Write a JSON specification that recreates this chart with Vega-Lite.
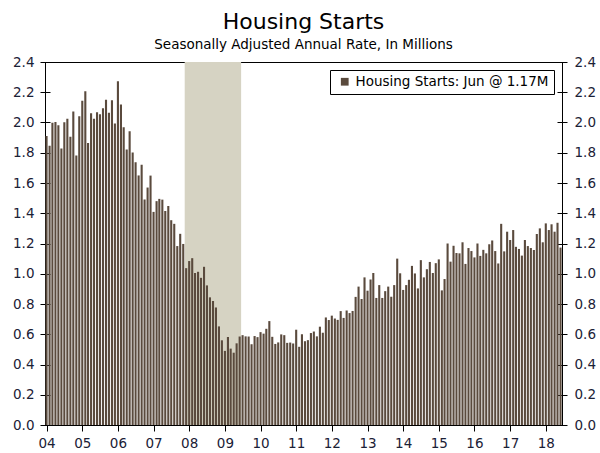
{
  "$schema": "https://vega.github.io/schema/vega-lite/v6.json",
  "width": 517,
  "height": 363,
  "autosize": {"type": "none"},
  "padding": {"left": 45, "top": 62, "right": 38, "bottom": 28},
  "background": "white",
  "title": {
    "text": "Housing Starts",
    "subtitle": "Seasonally Adjusted Annual Rate, In Millions",
    "anchor": "middle",
    "font": "DejaVu Sans",
    "fontSize": 22,
    "fontWeight": "normal",
    "color": "black",
    "subtitleFont": "DejaVu Sans",
    "subtitleFontSize": 13.5,
    "subtitleColor": "black",
    "subtitlePadding": 4,
    "offset": 3
  },
  "config": {
    "view": {"stroke": "black", "strokeWidth": 1},
    "axis": {
      "labelFont": "DejaVu Sans",
      "labelFontSize": 13.5,
      "labelColor": "#1b2136",
      "tickColor": "black",
      "grid": false,
      "domain": false
    },
    "legend": {
      "labelFont": "DejaVu Sans",
      "labelFontSize": 13.5,
      "labelColor": "black",
      "labelLimit": 400
    }
  },
  "datasets": {
    "hs": [
      {"d": "2004-01-01", "v": 1.911}, {"d": "2004-02-01", "v": 1.846}, {"d": "2004-03-01", "v": 1.998}, {"d": "2004-04-01", "v": 2.003}, {"d": "2004-05-01", "v": 1.981}, {"d": "2004-06-01", "v": 1.828}, {"d": "2004-07-01", "v": 2.002}, {"d": "2004-08-01", "v": 2.024}, {"d": "2004-09-01", "v": 1.905}, {"d": "2004-10-01", "v": 2.072}, {"d": "2004-11-01", "v": 1.782}, {"d": "2004-12-01", "v": 2.042},
      {"d": "2005-01-01", "v": 2.144}, {"d": "2005-02-01", "v": 2.207}, {"d": "2005-03-01", "v": 1.864}, {"d": "2005-04-01", "v": 2.061}, {"d": "2005-05-01", "v": 2.025}, {"d": "2005-06-01", "v": 2.068}, {"d": "2005-07-01", "v": 2.054}, {"d": "2005-08-01", "v": 2.095}, {"d": "2005-09-01", "v": 2.151}, {"d": "2005-10-01", "v": 2.065}, {"d": "2005-11-01", "v": 2.147}, {"d": "2005-12-01", "v": 1.994},
      {"d": "2006-01-01", "v": 2.273}, {"d": "2006-02-01", "v": 2.119}, {"d": "2006-03-01", "v": 1.969}, {"d": "2006-04-01", "v": 1.821}, {"d": "2006-05-01", "v": 1.942}, {"d": "2006-06-01", "v": 1.802}, {"d": "2006-07-01", "v": 1.737}, {"d": "2006-08-01", "v": 1.650}, {"d": "2006-09-01", "v": 1.720}, {"d": "2006-10-01", "v": 1.491}, {"d": "2006-11-01", "v": 1.570}, {"d": "2006-12-01", "v": 1.649},
      {"d": "2007-01-01", "v": 1.409}, {"d": "2007-02-01", "v": 1.480}, {"d": "2007-03-01", "v": 1.495}, {"d": "2007-04-01", "v": 1.490}, {"d": "2007-05-01", "v": 1.415}, {"d": "2007-06-01", "v": 1.448}, {"d": "2007-07-01", "v": 1.354}, {"d": "2007-08-01", "v": 1.330}, {"d": "2007-09-01", "v": 1.183}, {"d": "2007-10-01", "v": 1.264}, {"d": "2007-11-01", "v": 1.197}, {"d": "2007-12-01", "v": 1.037},
      {"d": "2008-01-01", "v": 1.084}, {"d": "2008-02-01", "v": 1.103}, {"d": "2008-03-01", "v": 1.005}, {"d": "2008-04-01", "v": 1.013}, {"d": "2008-05-01", "v": 0.973}, {"d": "2008-06-01", "v": 1.046}, {"d": "2008-07-01", "v": 0.923}, {"d": "2008-08-01", "v": 0.844}, {"d": "2008-09-01", "v": 0.820}, {"d": "2008-10-01", "v": 0.777}, {"d": "2008-11-01", "v": 0.652}, {"d": "2008-12-01", "v": 0.560},
      {"d": "2009-01-01", "v": 0.490}, {"d": "2009-02-01", "v": 0.582}, {"d": "2009-03-01", "v": 0.505}, {"d": "2009-04-01", "v": 0.478}, {"d": "2009-05-01", "v": 0.540}, {"d": "2009-06-01", "v": 0.585}, {"d": "2009-07-01", "v": 0.594}, {"d": "2009-08-01", "v": 0.586}, {"d": "2009-09-01", "v": 0.585}, {"d": "2009-10-01", "v": 0.534}, {"d": "2009-11-01", "v": 0.588}, {"d": "2009-12-01", "v": 0.581},
      {"d": "2010-01-01", "v": 0.614}, {"d": "2010-02-01", "v": 0.604}, {"d": "2010-03-01", "v": 0.636}, {"d": "2010-04-01", "v": 0.687}, {"d": "2010-05-01", "v": 0.583}, {"d": "2010-06-01", "v": 0.536}, {"d": "2010-07-01", "v": 0.546}, {"d": "2010-08-01", "v": 0.599}, {"d": "2010-09-01", "v": 0.594}, {"d": "2010-10-01", "v": 0.543}, {"d": "2010-11-01", "v": 0.545}, {"d": "2010-12-01", "v": 0.539},
      {"d": "2011-01-01", "v": 0.630}, {"d": "2011-02-01", "v": 0.517}, {"d": "2011-03-01", "v": 0.600}, {"d": "2011-04-01", "v": 0.554}, {"d": "2011-05-01", "v": 0.561}, {"d": "2011-06-01", "v": 0.608}, {"d": "2011-07-01", "v": 0.618}, {"d": "2011-08-01", "v": 0.586}, {"d": "2011-09-01", "v": 0.650}, {"d": "2011-10-01", "v": 0.610}, {"d": "2011-11-01", "v": 0.711}, {"d": "2011-12-01", "v": 0.694},
      {"d": "2012-01-01", "v": 0.723}, {"d": "2012-02-01", "v": 0.704}, {"d": "2012-03-01", "v": 0.695}, {"d": "2012-04-01", "v": 0.753}, {"d": "2012-05-01", "v": 0.708}, {"d": "2012-06-01", "v": 0.757}, {"d": "2012-07-01", "v": 0.740}, {"d": "2012-08-01", "v": 0.754}, {"d": "2012-09-01", "v": 0.847}, {"d": "2012-10-01", "v": 0.915}, {"d": "2012-11-01", "v": 0.833}, {"d": "2012-12-01", "v": 0.976},
      {"d": "2013-01-01", "v": 0.888}, {"d": "2013-02-01", "v": 0.962}, {"d": "2013-03-01", "v": 1.005}, {"d": "2013-04-01", "v": 0.840}, {"d": "2013-05-01", "v": 0.925}, {"d": "2013-06-01", "v": 0.840}, {"d": "2013-07-01", "v": 0.885}, {"d": "2013-08-01", "v": 0.915}, {"d": "2013-09-01", "v": 0.848}, {"d": "2013-10-01", "v": 0.925}, {"d": "2013-11-01", "v": 1.100}, {"d": "2013-12-01", "v": 1.003},
      {"d": "2014-01-01", "v": 0.893}, {"d": "2014-02-01", "v": 0.925}, {"d": "2014-03-01", "v": 0.960}, {"d": "2014-04-01", "v": 1.052}, {"d": "2014-05-01", "v": 1.002}, {"d": "2014-06-01", "v": 0.903}, {"d": "2014-07-01", "v": 1.090}, {"d": "2014-08-01", "v": 0.976}, {"d": "2014-09-01", "v": 1.030}, {"d": "2014-10-01", "v": 1.078}, {"d": "2014-11-01", "v": 1.005}, {"d": "2014-12-01", "v": 1.070},
      {"d": "2015-01-01", "v": 1.095}, {"d": "2015-02-01", "v": 0.890}, {"d": "2015-03-01", "v": 0.965}, {"d": "2015-04-01", "v": 1.200}, {"d": "2015-05-01", "v": 1.080}, {"d": "2015-06-01", "v": 1.185}, {"d": "2015-07-01", "v": 1.137}, {"d": "2015-08-01", "v": 1.135}, {"d": "2015-09-01", "v": 1.208}, {"d": "2015-10-01", "v": 1.065}, {"d": "2015-11-01", "v": 1.170}, {"d": "2015-12-01", "v": 1.150},
      {"d": "2016-01-01", "v": 1.108}, {"d": "2016-02-01", "v": 1.200}, {"d": "2016-03-01", "v": 1.118}, {"d": "2016-04-01", "v": 1.158}, {"d": "2016-05-01", "v": 1.135}, {"d": "2016-06-01", "v": 1.195}, {"d": "2016-07-01", "v": 1.220}, {"d": "2016-08-01", "v": 1.150}, {"d": "2016-09-01", "v": 1.068}, {"d": "2016-10-01", "v": 1.330}, {"d": "2016-11-01", "v": 1.148}, {"d": "2016-12-01", "v": 1.278},
      {"d": "2017-01-01", "v": 1.223}, {"d": "2017-02-01", "v": 1.289}, {"d": "2017-03-01", "v": 1.178}, {"d": "2017-04-01", "v": 1.164}, {"d": "2017-05-01", "v": 1.120}, {"d": "2017-06-01", "v": 1.223}, {"d": "2017-07-01", "v": 1.183}, {"d": "2017-08-01", "v": 1.170}, {"d": "2017-09-01", "v": 1.157}, {"d": "2017-10-01", "v": 1.263}, {"d": "2017-11-01", "v": 1.300}, {"d": "2017-12-01", "v": 1.208},
      {"d": "2018-01-01", "v": 1.333}, {"d": "2018-02-01", "v": 1.289}, {"d": "2018-03-01", "v": 1.327}, {"d": "2018-04-01", "v": 1.278}, {"d": "2018-05-01", "v": 1.337}, {"d": "2018-06-01", "v": 1.173}
    ]
  },
  "layer": [
    {
      "data": {"values": [{"s": "2007-11-16", "e": "2009-06-16"}]},
      "mark": {"type": "rect", "color": "#d6d3c3"},
      "encoding": {
        "x": {"field": "s", "type": "temporal", "title": null,
          "scale": {"type": "utc", "padding": 0, "domain": [{"year": 2003, "month": 12, "date": 16, "utc": true}, {"year": 2018, "month": 6, "date": 16, "utc": true}]},
          "axis": {"format": "%y", "tickCount": {"interval": "year", "step": 1}, "tickSize": 6, "labelPadding": 5, "labelFlush": false, "labelOverlap": false}},
        "x2": {"field": "e"}
      }
    },
    {
      "data": {"name": "hs"},
      "mark": {"type": "bar", "width": 2.1},
      "encoding": {
        "x": {"field": "d", "type": "temporal", "title": null,
          "scale": {"type": "utc", "padding": 0, "domain": [{"year": 2003, "month": 12, "date": 16, "utc": true}, {"year": 2018, "month": 6, "date": 16, "utc": true}]},
          "axis": {"format": "%y", "tickCount": {"interval": "year", "step": 1}, "tickSize": 6, "labelPadding": 5, "labelFlush": false, "labelOverlap": false}},
        "y": {"field": "v", "type": "quantitative", "title": null,
          "scale": {"domain": [0, 2.4], "nice": false, "zero": true},
          "axis": {"orient": "left", "values": [0, 0.2, 0.4, 0.6, 0.8, 1.0, 1.2, 1.4, 1.6, 1.8, 2.0, 2.2, 2.4], "format": ".1f", "offset": -5, "tickSize": 10, "labelPadding": 6}},
        "color": {"datum": "Housing Starts: Jun @ 1.17M", "type": "nominal",
          "scale": {"range": ["#5a4a3d"]},
          "legend": {"title": null, "orient": "top-right", "offset": 8, "strokeColor": "black", "fillColor": "white", "padding": 5, "symbolType": "square", "symbolSize": 60, "symbolOffset": 3, "labelOffset": 4, "symbolStrokeWidth": 0, "labelLimit": 400}}
      }
    },
    {
      "data": {"name": "hs"},
      "mark": {"type": "bar", "width": 2.1, "opacity": 0},
      "encoding": {
        "x": {"field": "d", "type": "temporal", "title": null,
          "scale": {"type": "utc", "padding": 0, "domain": [{"year": 2003, "month": 12, "date": 16, "utc": true}, {"year": 2018, "month": 6, "date": 16, "utc": true}]},
          "axis": {"format": "%y", "tickCount": {"interval": "year", "step": 1}, "tickSize": 6, "labelPadding": 5, "labelFlush": false, "labelOverlap": false}},
        "y": {"field": "v", "type": "quantitative", "title": null,
          "scale": {"domain": [0, 2.4], "nice": false, "zero": true},
          "axis": {"orient": "right", "values": [0, 0.2, 0.4, 0.6, 0.8, 1.0, 1.2, 1.4, 1.6, 1.8, 2.0, 2.2, 2.4], "format": ".1f", "offset": -5, "tickSize": 10, "labelPadding": 7}}
      }
    }
  ],
  "resolve": {"scale": {"y": "independent"}, "axis": {"y": "independent"}}
}
